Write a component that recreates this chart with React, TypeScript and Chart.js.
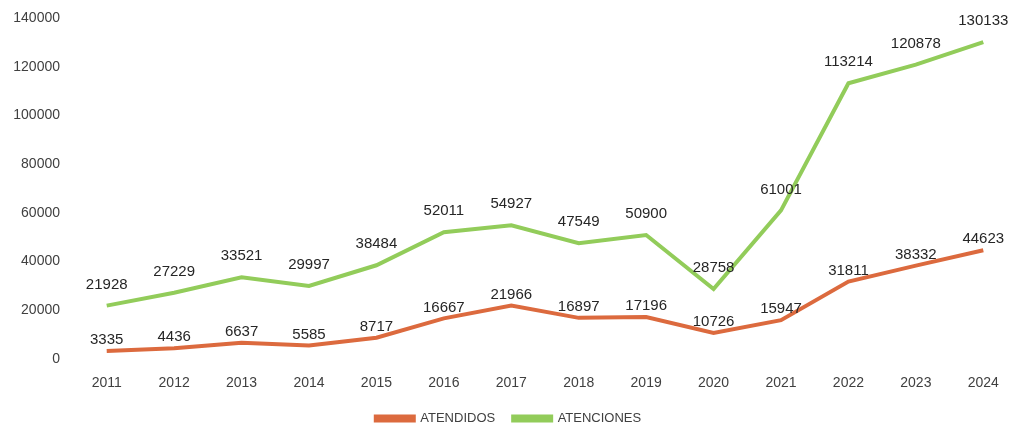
import React, { useEffect, useRef } from "react";
import { Chart, registerables } from "chart.js";

Chart.register(...registerables);

const years = ["2011", "2012", "2013", "2014", "2015", "2016", "2017", "2018", "2019", "2020", "2021", "2022", "2023", "2024"];
const atendidos = [3335, 4436, 6637, 5585, 8717, 16667, 21966, 16897, 17196, 10726, 15947, 31811, 38332, 44623];
const atenciones = [21928, 27229, 33521, 29997, 38484, 52011, 54927, 47549, 50900, 28758, 61001, 113214, 120878, 130133];
const yTicks = [0, 20000, 40000, 60000, 80000, 100000, 120000, 140000];

const ORANGE = "#dc6a3e";
const GREEN = "#92cc5a";
const FONT = "'Liberation Sans', Arial, sans-serif";

const labelPlugin = {
  id: "valueLabels",
  afterDatasetsDraw(chart: any) {
    const ctx = chart.ctx;
    ctx.save();
    ctx.font = `15px ${FONT}`;
    ctx.fillStyle = "#262626";
    ctx.textAlign = "center";
    ctx.textBaseline = "middle";
    chart.data.datasets.forEach((ds: any, i: number) => {
      const meta = chart.getDatasetMeta(i);
      const off = i === 0 ? 11 : 21;
      meta.data.forEach((pt: any, j: number) => {
        ctx.fillText(String(ds.data[j]), pt.x, pt.y - off);
      });
    });
    ctx.restore();
  },
};

export default function App() {
  const ref = useRef<HTMLCanvasElement>(null);
  useEffect(() => {
    if (!ref.current) return;
    const chart = new Chart(ref.current, {
      type: "line",
      data: {
        labels: years,
        datasets: [
          {
            label: "ATENDIDOS",
            data: atendidos,
            borderColor: ORANGE,
            backgroundColor: ORANGE,
            borderWidth: 4,
            pointRadius: 0,
            tension: 0,
          },
          {
            label: "ATENCIONES",
            data: atenciones,
            borderColor: GREEN,
            backgroundColor: GREEN,
            borderWidth: 4,
            pointRadius: 0,
            tension: 0,
          },
        ],
      },
      options: {
        animation: false,
        responsive: false,
        maintainAspectRatio: false,
        layout: { padding: { top: 18, right: 13, left: 0, bottom: 4 } },
        plugins: {
          tooltip: { enabled: false },
          legend: {
            position: "bottom",
            labels: {
              boxWidth: 38,
              boxHeight: 4,
              color: "#404040",
              font: { family: FONT, size: 13 },
              padding: 18,
            },
          },
        },
        scales: {
          x: {
            offset: true,
            grid: { display: false },
            border: { display: false },
            ticks: { color: "#404040", font: { family: FONT, size: 14 }, padding: 8 },
            afterFit(scale: any) {
              scale.height = 35;
            },
          },
          y: {
            min: 0,
            max: 140000,
            afterBuildTicks(scale: any) {
              scale.ticks = yTicks.map((v) => ({ value: v }));
            },
            grid: { display: false },
            border: { display: false },
            ticks: {
              color: "#404040",
              font: { family: FONT, size: 14 },
              padding: 5,
              callback: (v: any) => String(v),
            },
            afterFit(scale: any) {
              scale.width = 73;
            },
          },
        },
      },
      plugins: [labelPlugin],
    });
    return () => chart.destroy();
  }, []);
  return (
    <div style={{ position: "absolute", left: 0, top: 0, width: 1030, height: 439, background: "#fff" }}>
      <canvas ref={ref} width={1030} height={439} />
    </div>
  );
}
